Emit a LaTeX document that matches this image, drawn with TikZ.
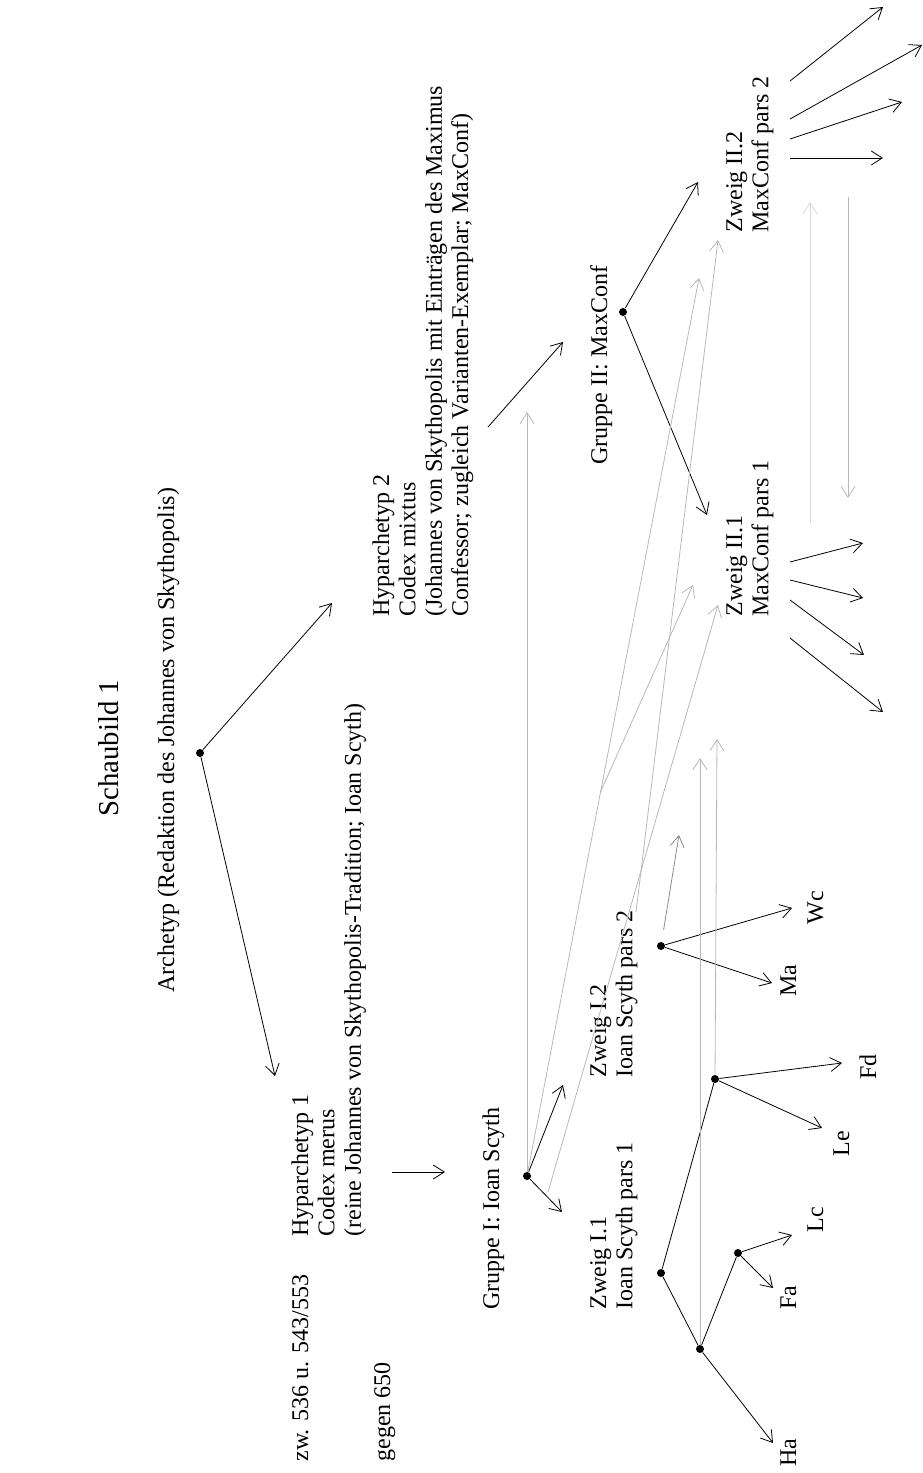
\documentclass[tikz,border=0pt]{standalone}
\usepackage{fontspec}
\setmainfont{Liberation Serif}
\usetikzlibrary{arrows.meta}
\begin{document}
\begin{tikzpicture}[x=0.5pt,y=-0.5pt,
  dot/.style={circle,fill=black,inner sep=0pt,minimum size=4pt},
  txt/.style={rotate=90,anchor=base west,inner sep=0pt,font=\fontsize{12pt}{13.2pt}\selectfont},
  arr/.style={-{Straight Barb[length=5.5pt,width=7pt]},line width=0.4pt},
  ln/.style={line width=0.4pt},
  garr/.style={arr,draw=black!28},
  gln/.style={ln,draw=black!28},
  larr/.style={arr,draw=black!15},
 ]
\useasboundingbox (0,0) rectangle (922,1473);
% texts
\node[txt,font=\fontsize{14.4pt}{16pt}\selectfont] (title) at (118,817) {Schaubild 1};
\node[txt] (archtxt) at (174,993) {Archetyp (Redaktion des Johannes von Skythopolis)};
\node[txt] (date1) at (308,1462) {zw. 536 u. 543/553};
\node[txt] (date2) at (390,1462) {gegen 650};
\node[txt] (hyp1) at (308,1237) {\vtop{\hbox{Hyparchetyp 1}\hbox{Codex merus}\hbox{(reine Johannes von Skythopolis-Tradition; Ioan Scyth)}}};
\node[txt] (hyp2) at (389,617) {\vtop{\hbox{Hyparchetyp 2}\hbox{Codex mixtus}\hbox{(Johannes von Skythopolis mit Einträgen des Maximus}\hbox{Confessor; zugleich Varianten-Exemplar; MaxConf)}}};
\node[txt] (g1txt) at (499,1310) {Gruppe I: Ioan Scyth};
\node[txt] (g2txt) at (607,465) {Gruppe II: MaxConf};
\node[txt] (z11) at (606,1310) {\vtop{\hbox{Zweig I.1}\hbox{Ioan Scyth pars 1}}};
\node[txt] (z12) at (606,1078) {\vtop{\hbox{Zweig I.2}\hbox{Ioan Scyth pars 2}}};
\node[txt] (z21) at (742,617) {\vtop{\hbox{Zweig II.1}\hbox{MaxConf pars 1}}};
\node[txt] (z22) at (742,233) {\vtop{\hbox{Zweig II.2}\hbox{MaxConf pars 2}}};
\node[txt] (Ha) at (796,1467) {Ha};
\node[txt] (Fa) at (796,1310) {Fa};
\node[txt] (Lc) at (823,1233) {Lc};
\node[txt] (Le) at (849,1157) {Le};
\node[txt] (Fd) at (876,1080) {Fd};
\node[txt] (Ma) at (796,997) {Ma};
\node[txt] (Wc) at (823,925) {Wc};
% dots
\node[dot] (arch) at (200,753) {};
\node[dot] (gI) at (527,1176) {};
\node[dot] (gII) at (623,312) {};
\node[dot] (zI1) at (661,1273) {};
\node[dot] (haD) at (700,1349) {};
\node[dot] (faD) at (738,1253) {};
\node[dot] (fdD) at (715,1079) {};
\node[dot] (zI2) at (661,946) {};
% coordinates
\coordinate (tH2) at (332,603);
\coordinate (tH1) at (275,1076);
\coordinate (h1a) at (392,1172); \coordinate (h1b) at (445,1172);
\coordinate (h2a) at (488,427); \coordinate (h2b) at (563,342);
\coordinate (tZ12) at (563,1085); \coordinate (tZ11) at (562,1212);
\coordinate (tZ22) at (698,182); \coordinate (tZ21) at (707,515);
\coordinate (tHa) at (773,1443); \coordinate (tLc) at (792,1235); \coordinate (tFa) at (773,1288);
\coordinate (tLe) at (822,1128); \coordinate (tFd) at (842,1063);
\coordinate (tMa) at (772,983); \coordinate (tWc) at (792,908);
% black tree
\draw[arr] (arch) -- (tH2);
\draw[arr] (arch) -- (tH1);
\draw[arr] (h1a) -- (h1b);
\draw[arr] (h2a) -- (h2b);
\draw[arr] (gI) -- (tZ12);
\draw[arr] (gI) -- (tZ11);
\draw[arr] (gII) -- (tZ22);
\draw[arr] (gII) -- (tZ21);
\draw[ln] (haD) -- (zI1) -- (fdD);
\draw[ln] (haD) -- (faD);
\draw[arr] (haD) -- (tHa);
\draw[arr] (faD) -- (tLc);
\draw[arr] (faD) -- (tFa);
\draw[arr] (fdD) -- (tLe);
\draw[arr] (fdD) -- (tFd);
\draw[arr] (zI2) -- (tMa);
\draw[arr] (zI2) -- (tWc);
% fans Zweig II.1
\foreach \i/\sy/\tx/\ty in {1/562/863/543,2/580/863/598,3/600/864/655,4/638/883/712}{
  \coordinate (fa\i) at (790,\sy); \coordinate (fb\i) at (\tx,\ty);
  \draw[arr] (fa\i) -- (fb\i);}
% fans Zweig II.2
\foreach \i/\sy/\tx/\ty in {1/81/883/7,2/119/922/45,3/139/902/102,4/158/883/158}{
  \coordinate (fc\i) at (790,\sy); \coordinate (fd\i) at (\tx,\ty);
  \draw[arr] (fc\i) -- (fd\i);}
% grey contamination lines
\coordinate (gv) at (527,412);
\coordinate (ga) at (699,278);
\coordinate (gb0) at (600.5,792); \coordinate (gb) at (693,585);
\coordinate (gc0) at (636,912); \coordinate (gc) at (718,240);
\coordinate (gd0) at (548,1192); \coordinate (gd) at (718,605);
\coordinate (ge) at (679,835);
\coordinate (gf) at (700,758);
\coordinate (gg) at (717,739);
\coordinate (gh0) at (810,523); \coordinate (gh) at (810,202);
\coordinate (gi0) at (848,197); \coordinate (gi) at (848,498);
\draw[garr] (gI) -- (gv);
\draw[garr] (gI) -- (ga);
\draw[garr] (gb0) -- (gb);
\draw[garr] (gc0) -- (gc);
\draw[garr] (gd0) -- (gd);
\draw[arr,draw=black!45,shorten <=6pt] (zI2) -- (ge);
\draw[garr] (haD) -- (gf);
\draw[garr] (fdD) -- (gg);
\draw[larr] (gh0) -- (gh);
\draw[garr] (gi0) -- (gi);
\end{tikzpicture}
\end{document}
